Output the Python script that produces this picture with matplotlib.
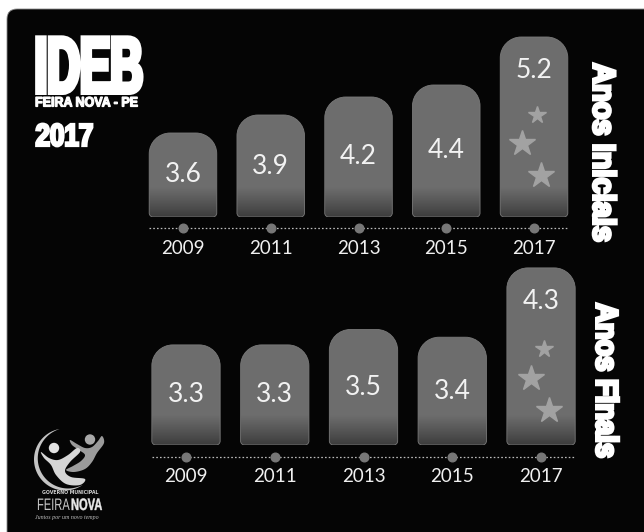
import numpy as np
import matplotlib
matplotlib.use("Agg")
import matplotlib.pyplot as plt
from matplotlib import patheffects
from matplotlib.patches import FancyBboxPatch, PathPatch, Circle, Polygon
from matplotlib.path import Path
from matplotlib.transforms import Affine2D, offset_copy

# ---- data ----
years = ["2009", "2011", "2013", "2015", "2017"]
anos_iniciais = [3.6, 3.9, 4.2, 4.4, 5.2]
anos_finais = [3.3, 3.3, 3.5, 3.4, 4.3]
title = "IDEB"
subtitle = "FEIRA NOVA - PE"
edition = "2017"
panel_titles = ["Anos Iniciais", "Anos Finais"]

# ---- figure / canvas in pixel units (y grows downward) ----
W, H, DPI = 644, 532, 100
fig = plt.figure(figsize=(W / DPI, H / DPI), dpi=DPI, facecolor="white")

canvas = fig.add_axes([0, 0, 1, 1])
canvas.set_xlim(0, W)
canvas.set_ylim(H, 0)
canvas.axis("off")
canvas.add_patch(FancyBboxPatch((7, 9), W + 40, H + 40,
                                boxstyle="round,pad=0,rounding_size=10",
                                fc="#050505", ec="#8a8a8a", lw=0.6, zorder=0))

HEAVY = ["Liberation Sans", "DejaVu Sans"]
ROUND = ["Lato", "DejaVu Sans"]


class Stretch(patheffects.AbstractPathEffect):
    """Scale glyph outlines about the text origin and optionally fatten them."""

    def __init__(self, sx=1.0, sy=1.0, bold_px=0.0):
        super().__init__()
        self._pre = Affine2D().scale(sx, sy)
        self._lw = bold_px * 72.0 / DPI

    def draw_path(self, renderer, gc, tpath, affine, rgbFace=None):
        gc0 = renderer.new_gc()
        gc0.copy_properties(gc)
        if self._lw > 0 and rgbFace is not None:
            gc0.set_linewidth(self._lw)
            gc0.set_foreground(rgbFace)
            gc0.set_joinstyle("miter")
        renderer.draw_path(gc0, tpath, self._pre + affine, rgbFace)
        gc0.restore()


def heavy_text(x, y, s, size, sx=1.0, sy=1.0, bold_px=0.0, rotation=0,
               weight="bold", color="white", ha="left", family=HEAVY,
               shrink=1.0, **kw):
    # the glyphs are set at size/shrink and scaled back up by the path effect
    return canvas.text(x, y, s, fontsize=size / shrink, fontweight=weight,
                       family=family, color=color, ha=ha, va="baseline",
                       rotation=rotation, rotation_mode="anchor",
                       path_effects=[Stretch(sx * shrink, sy * shrink, bold_px)],
                       zorder=5, **kw)


# ---- headline ----
heavy_text(34.6, 92.5, title, 32.7, sy=1.75, bold_px=5, shrink=2.7)
heavy_text(35, 106.5, subtitle, 9, sy=1.1, bold_px=1.2, shrink=1.3)
heavy_text(35.5, 145.8, edition, 18.7, sy=1.21, bold_px=2.6)
heavy_text(593.5, 63, panel_titles[0], 20.9, sy=1.08, bold_px=3, rotation=-90)
heavy_text(596.5, 303, panel_titles[1], 19.7, sy=1.12, bold_px=3, rotation=-90)

# ---- bar panels ----
BAR_W = 0.77
R_TOP, R_BOT = 21.0, 4.0          # corner radii in pixels
FADE_PX = 30.0                     # height of the darker foot of each bar
SHADE_TOP, SHADE_BOTTOM = 0.43, 0.23
KAPPA = 0.5523


def rounded_bar_path(x0, x1, y0, y1, rxt, ryt, rxb, ryb):
    k = KAPPA
    verts = [
        (x0 + rxb, y0), (x1 - rxb, y0),
        (x1 - rxb + k * rxb, y0), (x1, y0 + ryb - k * ryb), (x1, y0 + ryb),
        (x1, y1 - ryt),
        (x1, y1 - ryt + k * ryt), (x1 - rxt + k * rxt, y1), (x1 - rxt, y1),
        (x0 + rxt, y1),
        (x0 + rxt - k * rxt, y1), (x0, y1 - ryt + k * ryt), (x0, y1 - ryt),
        (x0, y0 + ryb),
        (x0, y0 + ryb - k * ryb), (x0 + rxb - k * rxb, y0), (x0 + rxb, y0),
        (x0 + rxb, y0),
    ]
    codes = ([Path.MOVETO, Path.LINETO] + [Path.CURVE4] * 3 + [Path.LINETO]
             + [Path.CURVE4] * 3 + [Path.LINETO] + [Path.CURVE4] * 3
             + [Path.LINETO] + [Path.CURVE4] * 3 + [Path.CLOSEPOLY])
    return Path(verts, codes)


def draw_panel(values, left_px, right_px, base_px, top_px, base, px_per_unit,
               line_drop, stars):
    n = len(values)
    ytop = base + (base_px - top_px) / px_per_unit
    ax = fig.add_axes([left_px / W, 1 - base_px / H,
                       (right_px - left_px) / W, (base_px - top_px) / H])
    ax.patch.set_alpha(0)
    ax.axis("off")
    px_x = (right_px - left_px) / n
    px_y = px_per_unit
    xs = np.arange(n)
    vals = np.asarray(values, dtype=float)

    bars = ax.bar(xs, vals - base, bottom=base, width=BAR_W,
                  color="none", edgecolor="none")
    for i, rect in enumerate(bars):
        x0 = rect.get_x()
        x1 = x0 + rect.get_width()
        y0 = rect.get_y()
        y1 = y0 + rect.get_height()
        path = rounded_bar_path(x0, x1, y0, y1, R_TOP / px_x, R_TOP / px_y,
                                R_BOT / px_x, R_BOT / px_y)
        outline = PathPatch(path, fc="none", ec="#7a7a7a", lw=0.6, zorder=3)
        ax.add_patch(outline)
        rows = max(int(round((y1 - y0) * px_y)), 2)
        d = np.arange(rows)[::-1] + 0.5
        t = np.clip(d / FADE_PX, 0, 1) ** 0.9
        shade = SHADE_BOTTOM + (SHADE_TOP - SHADE_BOTTOM) * t
        img = np.repeat(shade[:, None, None], 3, axis=2)
        im = ax.imshow(img, extent=(x0, x1, y0, y1), aspect="auto",
                       interpolation="bilinear", zorder=2)
        im.set_clip_path(outline)

        label = f"{vals[i]:.1f}"
        if i == n - 1:
            ax.annotate(label, xy=(xs[i], y1), xytext=(0, -34),
                        textcoords="offset pixels", ha="center", va="center",
                        fontsize=19, family=ROUND, color="#f2f2f2", zorder=5)
        else:
            ax.text(xs[i], (y0 + y1) / 2, label, ha="center", va="center",
                    fontsize=19, family=ROUND, color="#f2f2f2", zorder=5)

    # stars decorating the latest bar
    for dx, dy, ms in stars:
        tr = offset_copy(ax.transData, fig=fig, x=dx, y=dy, units="dots")
        ax.plot([xs[-1]], [base], marker="*", ms=ms, color="#a2a2a2",
                ls="none", transform=tr, zorder=4, clip_on=False)

    # dotted time line, markers and year labels
    tr_line = offset_copy(ax.transData, fig=fig, x=0, y=-line_drop, units="dots")
    ax.plot([xs[0] - BAR_W / 2, xs[-1] + BAR_W / 2], [base, base],
            ls=(0, (1.3, 1.7)), color="#bcbcbc", lw=0.9, transform=tr_line,
            clip_on=False, zorder=3)
    ax.plot(xs, [base] * n, "o", ms=6.2, color="#777777", transform=tr_line,
            clip_on=False, zorder=4)
    for i, yr in enumerate(years):
        ax.annotate(yr, xy=(xs[i], base), xytext=(0, -31),
                    textcoords="offset pixels", ha="center", va="center",
                    fontsize=13.5, family=ROUND, color="#f0f0f0",
                    annotation_clip=False)

    ax.set_xlim(-0.5, n - 0.5)
    ax.set_ylim(base, ytop)
    return ax


draw_panel(anos_iniciais, 139.1, 577.9, 217, 30, 2.2, 60.0, 11,
           stars=[(3, 102, 13), (-12, 74, 19), (7, 42, 19)])
draw_panel(anos_finais, 141.6, 585.4, 445, 255, 2.0, 77.0, 12,
           stars=[(3, 96, 13), (-10, 67, 19), (8, 35, 19)])


# ---- municipal emblem ----
def smooth_closed(pts, steps=8):
    P = np.asarray(pts, dtype=float)
    m = len(P)
    out = []
    for i in range(m):
        p0, p1, p2, p3 = P[i - 1], P[i], P[(i + 1) % m], P[(i + 2) % m]
        for t in np.linspace(0, 1, steps, endpoint=False):
            t2, t3 = t * t, t * t * t
            out.append(0.5 * (2 * p1 + (-p0 + p2) * t
                              + (2 * p0 - 5 * p1 + 4 * p2 - p3) * t2
                              + (-p0 + 3 * p1 - 3 * p2 + p3) * t3))
    return np.array(out)


cx, cy, r = 65, 459.5, 31
th = np.radians(np.linspace(100, 305, 90))
w = 4.0 * np.sin(np.pi * (th - th[0]) / (th[-1] - th[0])) ** 0.9
outer = np.c_[cx + r * np.cos(th), cy - r * np.sin(th)]
inner = np.c_[cx + (r - w) * np.cos(th), cy - (r - w) * np.sin(th)][::-1]
canvas.add_patch(Polygon(np.vstack([outer, inner]), closed=True,
                         fc="#c4c4c4", ec="none", zorder=3))

# right figure, arms raised
right_body = [(70, 440), (77, 444), (85, 448), (92, 447), (98, 441), (102, 436),
              (104, 443), (97, 453), (92, 462), (85, 469), (74, 472), (66, 470),
              (73, 466), (81, 461), (85, 455), (79, 450), (72, 445)]
canvas.add_patch(Polygon(smooth_closed(right_body), closed=True,
                         fc="#9b9b9b", ec="none", zorder=4))
canvas.add_patch(Circle((90, 439.5), 5.2, fc="#a8a8a8", ec="none", zorder=4))

# left figure, reaching out
left_body = [(41, 452), (49, 458), (58, 460), (68, 455), (77, 448), (80, 452),
             (70, 462), (65, 471), (71, 477), (85, 479), (80, 485), (66, 484),
             (56, 475), (51, 465), (44, 458)]
canvas.add_patch(Polygon(smooth_closed(left_body), closed=True,
                         fc="#d6d6d6", ec="none", zorder=5))
canvas.add_patch(Circle((54, 448), 5.2, fc="#e2e2e2", ec="none", zorder=5))

canvas.text(70, 492, "GOVERNO MUNICIPAL", fontsize=3.4, fontweight="bold",
            color="#cfcfcf", ha="center", va="center", zorder=5)
heavy_text(69.5, 510, "FEIRA", 8, sy=1.5, weight="normal", color="#c6c6c6",
           ha="right")
heavy_text(71, 510, "NOVA", 8, sy=1.5, bold_px=0.4, color="#e8e8e8")
canvas.text(67, 517, "Juntos por um novo tempo", fontsize=4.3, style="italic",
            family=["Liberation Serif", "DejaVu Serif"], color="#bdbdbd",
            ha="center", va="center", zorder=5)

fig.savefig("out.png", dpi=DPI, facecolor="white")
